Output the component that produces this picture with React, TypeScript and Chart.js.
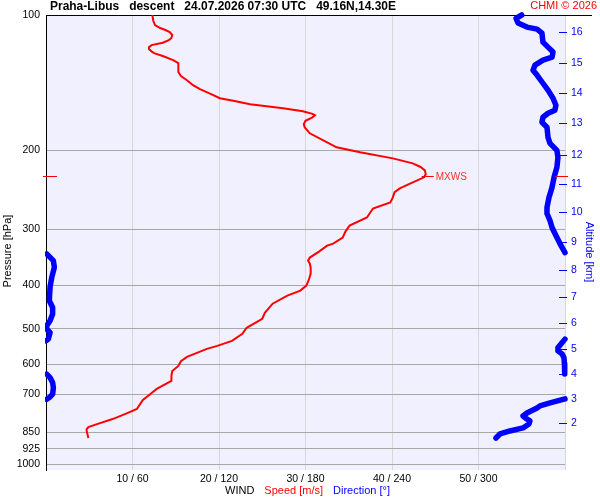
import { useEffect, useRef } from "react"
import { Chart, registerables, type ChartConfiguration, type Plugin } from "chart.js"

Chart.register(...registerables)

const FONT = "'Liberation Sans', Arial, sans-serif"

// axis ticks
const pressureTicks = [100, 200, 300, 400, 500, 600, 700, 850, 925, 1000]
const speedTicks = [0, 10, 20, 30, 40, 50, 60]
const speedTickLabels = ["", "10 / 60", "20 / 120", "30 / 180", "40 / 240", "50 / 300", ""]
const altitudeLabels = ["2", "3", "4", "5", "6", "7", "8", "9", "10", "11", "12", "13", "14", "15", "16"]
const altitudePressures = [810, 716, 630, 554, 485, 424, 369, 320, 275, 238, 205, 174, 149, 128, 109]

// max wind level
const mxwsPressure = 228
const mxwsSpeed = 43.9

// wind speed [hPa, m/s]
const windSpeed: [number, number][] = [
  [100, 12.3], [103, 12.4], [105.3, 12.6], [106.9, 13.2], [108, 13.8], [109.1, 14.3], [110.8, 14.6],
  [112.5, 14.5], [113.7, 14.2], [115.3, 13.5], [116.7, 12.2], [118, 11.9], [119.1, 11.9], [120.5, 12.2],
  [121.6, 12.5], [123.4, 13.5], [126, 14.7], [128, 15.3], [134, 15.3], [136.8, 15.6], [139.7, 16.3],
  [143.3, 17.0], [146.3, 17.8], [149.4, 18.9], [153.2, 20.1], [155.5, 21.8], [158, 23.6], [161.3, 27.4],
  [163.8, 29.7], [166, 30.8], [167.2, 31.1], [169, 30.8], [172, 30.0], [175, 29.8], [177.8, 29.9],
  [183.4, 30.5], [192.1, 32.5], [197.1, 33.6], [202.2, 36.3], [208.6, 40.1], [214, 42.4], [218, 43.3],
  [221.8, 43.8], [226, 43.9], [229.9, 43.7], [235.9, 42.4], [243.3, 40.9], [248, 40.3], [254.8, 40.1],
  [261.5, 39.8], [269.7, 37.8], [282.4, 37.1], [294.3, 35.1], [304, 34.6], [313.1, 34.3], [322.9, 33.2],
  [326.3, 32.5], [336, 31.6], [346.9, 30.5], [352.3, 30.3], [358, 30.5], [365.2, 30.6], [376.6, 30.6],
  [388, 30.4], [400.6, 30.1], [411, 29.4], [421.7, 27.9], [439.5, 26.2], [460.3, 25.3], [474.7, 25.0],
  [497.2, 23.2], [512.8, 22.7], [531.6, 21.5], [545.5, 19.8], [554, 18.6], [577.2, 16.3], [590, 15.6],
  [604.6, 15.3], [620.3, 14.6], [636, 14.5], [652.9, 14.5], [680.4, 12.8], [700, 12.0], [720, 11.2],
  [754, 10.5], [770, 9.4], [794, 7.7], [815, 5.9], [827, 4.9], [836, 4.7], [844, 4.7], [875, 4.9],
]

// wind direction [hPa, deg], split where it wraps past north
const dirUpper: [number, number][] = [
  [100, 330], [101.7, 326], [104.2, 327.4], [106.4, 333.6], [107.5, 340.6], [109.7, 344], [114.9, 344.7],
  [117.9, 348.2], [120.9, 351.7], [124.1, 351], [126, 344.7], [129.3, 339.2], [132.7, 337.8], [136.1, 340.6],
  [141.9, 344.7], [147, 348.2], [153.2, 351.7], [158.8, 353.7], [162.9, 353], [165.5, 348.2], [168.9, 344.7],
  [173.4, 344], [177.8, 347.5], [187.2, 348.2], [193.1, 349.6], [200.2, 354.4], [207.5, 355.1], [218.4, 354.4],
  [229.9, 352.4], [242, 351], [254.8, 348.9], [268.4, 347.5], [276.7, 347.5], [286.9, 349.6], [297.4, 351],
  [306.7, 353], [322.9, 356.5], [338.1, 360],
]
const dirMidWest: [number, number][] = [
  [340.4, 0.5], [352.3, 5.1], [364.6, 5.8], [383.9, 4.0], [404.2, 2.8], [432.8, 2.3], [447.9, 4.6],
  [463.4, 4.6], [479.6, 2.8], [492, 0.5], [500.5, 0.5], [509.3, 2.8], [527, 1.6], [531.6, 0],
]
const dirMidEast: [number, number][] = [
  [527, 360], [537.1, 357.9], [551.1, 355.1], [559.6, 355.1], [568.3, 357.9], [580.1, 359.3],
  [598.3, 359.6], [629.8, 359.8],
]
const dirLowWest: [number, number][] = [
  [630.8, 0.5], [642, 2.8], [658.6, 4.6], [675.8, 5.1], [699, 4.6], [708.8, 2.8], [717.3, 0.5],
]
const dirLowEast: [number, number][] = [
  [716, 360], [730.9, 349.6], [742.2, 342.6], [749.9, 340.6], [769.6, 333.6], [781.6, 330.9],
  [793.8, 333.6], [801.7, 335.7], [814.1, 335], [831, 330.9], [843.9, 321.8], [857, 314.9], [874.9, 312.1],
]

const toPoints = (rows: [number, number][]) => rows.map(([p, v]) => ({ x: v, y: p }))

const directionSet = (rows: [number, number][]) => ({
  data: toPoints(rows),
  xAxisID: "xDir",
  yAxisID: "y",
  showLine: true,
  borderColor: "#0000ff",
  borderWidth: 5.5,
  borderCapStyle: "round" as const,
  borderJoinStyle: "round" as const,
  pointRadius: 0,
  clip: { left: 1, top: 4, right: 4, bottom: 0 },
})

const decor: Plugin = {
  id: "decor",
  beforeDraw(chart) {
    const { ctx, chartArea: a, width, height } = chart
    ctx.save()
    ctx.fillStyle = "#ffffff"
    ctx.fillRect(0, 0, width, height)
    ctx.fillStyle = "#f0f0fe"
    ctx.fillRect(a.left, a.top, a.right - a.left, a.bottom - a.top)
    ctx.restore()
  },
  beforeDatasetsDraw(chart) {
    const { ctx, chartArea: a } = chart
    const y = Math.round(chart.scales.y.getPixelForValue(100)) + 0.5
    ctx.save()
    ctx.strokeStyle = "#000000"
    ctx.lineWidth = 1
    ctx.beginPath()
    ctx.moveTo(a.left, y)
    ctx.lineTo(592, y)
    ctx.stroke()
    ctx.restore()
  },
  afterDraw(chart) {
    const { ctx, chartArea: a } = chart
    const ys = chart.scales.y
    const yAlt = chart.scales.yAlt
    const xs = chart.scales.x
    ctx.save()
    ctx.lineWidth = 1

    // altitude tick marks
    ctx.strokeStyle = "#0000ff"
    yAlt.ticks.forEach((t) => {
      const y = Math.round(yAlt.getPixelForValue(t.value)) + 0.5
      ctx.beginPath()
      ctx.moveTo(a.right - 6, y)
      ctx.lineTo(a.right + 2, y)
      ctx.stroke()
    })

    // max wind marks
    const my = Math.round(ys.getPixelForValue(mxwsPressure)) + 0.5
    const mx = xs.getPixelForValue(mxwsSpeed)
    ctx.strokeStyle = "#ff0000"
    ctx.beginPath()
    ctx.moveTo(a.left - 3, my)
    ctx.lineTo(a.left + 11, my)
    ctx.moveTo(a.right - 10, my)
    ctx.lineTo(a.right + 3, my)
    ctx.moveTo(mx - 4, my)
    ctx.lineTo(mx + 8, my)
    ctx.stroke()
    ctx.fillStyle = "#ff3030"
    ctx.font = `10px ${FONT}`
    ctx.textBaseline = "middle"
    ctx.textAlign = "left"
    ctx.fillText("MXWS", mx + 10, my + 1)

    // title
    ctx.fillStyle = "#000000"
    ctx.font = `bold 12px ${FONT}`
    ctx.fillText("Praha-Libus   descent   24.07.2026 07:30 UTC   49.16N,14.30E", 50, 7, 346)
    ctx.fillStyle = "#ff0000"
    ctx.font = `11px ${FONT}`
    ctx.textAlign = "right"
    ctx.fillText("CHMI \u00a9 2026", 597, 6)

    // bottom legend
    ctx.textAlign = "left"
    let lx = 225
    const parts: [string, string][] = [["WIND", "#000000"], ["Speed [m/s]", "#ff0000"], ["Direction [\u00b0]", "#0000ff"]]
    parts.forEach(([txt, col]) => {
      ctx.fillStyle = col
      ctx.fillText(txt, lx, 491)
      lx += ctx.measureText(txt).width + 10
    })

    // axis titles
    ctx.textAlign = "center"
    ctx.fillStyle = "#000000"
    ctx.save()
    ctx.translate(8, 251)
    ctx.rotate(-Math.PI / 2)
    ctx.fillText("Pressure [hPa]", 0, 0)
    ctx.restore()
    ctx.fillStyle = "#0000ff"
    ctx.save()
    ctx.translate(589, 252)
    ctx.rotate(Math.PI / 2)
    ctx.fillText("Altitude [km]", 0, 0)
    ctx.restore()

    ctx.restore()
  },
}

const tickFont = { family: FONT, size: 10.5 }

export default function App() {
  const canvasRef = useRef<HTMLCanvasElement>(null)

  useEffect(() => {
    const ctx = canvasRef.current?.getContext("2d")
    if (!ctx) return

    const config: ChartConfiguration<"scatter"> = {
      type: "scatter",
      data: {
        datasets: [
          directionSet(dirUpper),
          directionSet(dirMidWest),
          directionSet(dirMidEast),
          directionSet(dirLowWest),
          directionSet(dirLowEast),
          {
            data: toPoints(windSpeed),
            xAxisID: "x",
            yAxisID: "y",
            showLine: true,
            borderColor: "#ff0000",
            borderWidth: 2,
            pointRadius: 0,
          },
        ],
      },
      options: {
        responsive: false,
        animation: false,
        layout: { padding: { top: 15, left: 0, right: 0, bottom: 0 } },
        plugins: {
          legend: { display: false },
          tooltip: { enabled: false },
        },
        scales: {
          x: {
            type: "linear",
            min: 0,
            max: 60,
            afterBuildTicks: (axis) => {
              axis.ticks = speedTicks.map((v) => ({ value: v }))
            },
            afterFit: (axis) => {
              axis.height = 30
            },
            ticks: {
              autoSkip: false,
              maxRotation: 0,
              padding: 3,
              color: "#000000",
              font: tickFont,
              callback: (_v, i) => speedTickLabels[i],
            },
            grid: {
              tickLength: 0,
              color: (c) => (c.tick && c.tick.value === 0 ? "#000000" : "#d8d8d8"),
            },
            border: { display: false },
          },
          xDir: {
            type: "linear",
            min: 0,
            max: 360,
            display: false,
          },
          y: {
            type: "logarithmic",
            position: "left",
            reverse: true,
            min: 100,
            max: 1031,
            bounds: "data",
            afterBuildTicks: (axis) => {
              axis.ticks = pressureTicks.map((v) => ({ value: v }))
            },
            afterFit: (axis) => {
              axis.width = 46
            },
            ticks: {
              autoSkip: false,
              padding: 6,
              color: "#000000",
              font: tickFont,
              callback: (v) => String(v),
            },
            grid: {
              tickLength: 0,
              color: (c) => (c.tick && c.tick.value === 100 ? "#000000" : "#a8a8a8"),
            },
            border: { display: true, color: "#000000" },
          },
          yAlt: {
            type: "logarithmic",
            position: "right",
            reverse: true,
            min: 100,
            max: 1031,
            bounds: "data",
            afterBuildTicks: (axis) => {
              axis.ticks = altitudePressures.map((v) => ({ value: v }))
            },
            afterFit: (axis) => {
              axis.width = 35
            },
            ticks: {
              autoSkip: false,
              padding: 6,
              color: "#0000ff",
              font: tickFont,
              callback: (_v, i) => altitudeLabels[i],
            },
            grid: { drawOnChartArea: false, tickLength: 0 },
            border: { display: false },
          },
        },
      },
      plugins: [decor],
    }

    const chart = new Chart(ctx, config)
    return () => chart.destroy()
  }, [])

  return (
    <div style={{ position: "absolute", left: 0, top: 0, width: 600, height: 500 }}>
      <canvas ref={canvasRef} width={600} height={500} />
    </div>
  )
}
